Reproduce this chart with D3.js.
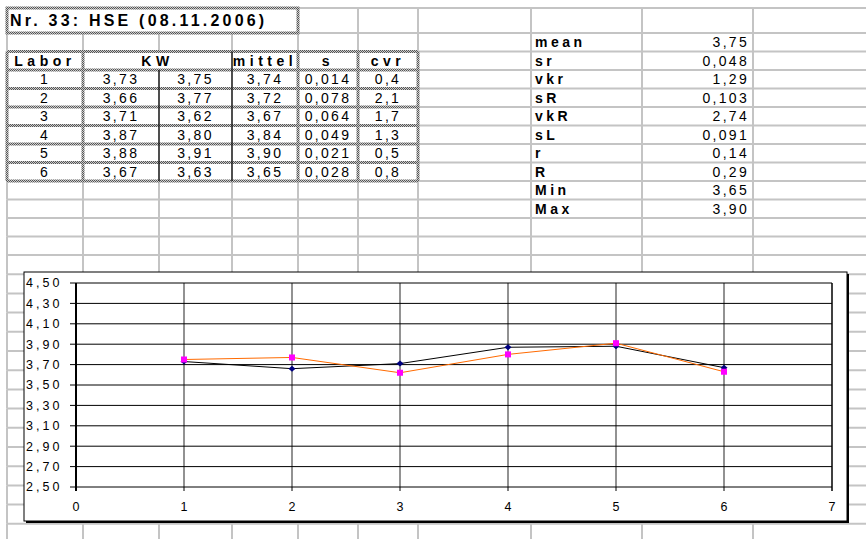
<!DOCTYPE html>
<html>
<head>
<meta charset="utf-8">
<script src="https://cdn.jsdelivr.net/npm/d3@7"></script>
<style>
  body { margin: 0; background: #fff; }
  text { font-family: "Liberation Sans", Arial, sans-serif; fill: #000; }
</style>
</head>
<body>
<svg id="sheet" width="866" height="539"></svg>
<script>
// sheet content
const title = "Nr. 33: HSE (08.11.2006)"
const headers = ["Labor", "KW", "mittel", "s", "cvr"]
const labs = [1, 2, 3, 4, 5, 6]
const kw1 = [3.73, 3.66, 3.71, 3.87, 3.88, 3.67]
const kw2 = [3.75, 3.77, 3.62, 3.80, 3.91, 3.63]
const mittel = [3.74, 3.72, 3.67, 3.84, 3.90, 3.65]
const sVals = [0.014, 0.078, 0.064, 0.049, 0.021, 0.028]
const cvr = [0.4, 2.1, 1.7, 1.3, 0.5, 0.8]
const statNames = ["mean", "sr", "vkr", "sR", "vkR", "sL", "r", "R", "Min", "Max"]
const statVals = [3.75, 0.048, 1.29, 0.103, 2.74, 0.091, 0.14, 0.29, 3.65, 3.90]
const statDigits = [2, 3, 2, 3, 2, 3, 2, 2, 2, 2]
const xTicks = [0, 1, 2, 3, 4, 5, 6, 7]
const yTicks = [2.5, 2.7, 2.9, 3.1, 3.3, 3.5, 3.7, 3.9, 4.1, 4.3, 4.5]

const svg = d3.select('#sheet')
const locale = d3.formatLocale({ decimal: ',', thousands: '.', grouping: [3], currency: ['', ''] })
const fmt = d => locale.format(',.' + d + 'f')

// spreadsheet grid
const colX = [7, 83, 159, 232, 298, 358, 418, 531, 642, 753]
const rowY = [8, 33]
for (let i = 1; i <= 12; i++) rowY.push(33 + 18.5 * i)
for (let i = 1; i <= 14; i++) rowY.push(255 + 19.2 * i)
const rowTop = i => 33 + 18.5 * i   // i = 0 is the row below the title

const defs = svg.append('defs')
const pat = defs.append('pattern')
  .attr('id', 'checker')
  .attr('patternUnits', 'userSpaceOnUse')
  .attr('width', 2).attr('height', 2)
pat.append('rect').attr('width', 2).attr('height', 2).attr('fill', '#cccccc')
pat.append('rect').attr('width', 1).attr('height', 1).attr('fill', '#555')
pat.append('rect').attr('x', 1).attr('y', 1).attr('width', 1).attr('height', 1).attr('fill', '#555')

const grid = svg.append('g').attr('stroke', '#c4c4c4').attr('stroke-width', 2)

const rowEdges = rowY.concat([539])
function merged(col, r) {
  // title cell spans A:D, KW header spans B:C
  if (r === 0 && col > 0 && col < 4) return true
  if (r === 2 && col === 2) return true
  return false
}
colX.forEach((x, c) => {
  for (let r = 0; r < rowEdges.length - 1; r++) {
    if (merged(c, r)) continue
    grid.append('line')
      .attr('x1', x).attr('x2', x)
      .attr('y1', rowEdges[r]).attr('y2', rowEdges[r + 1])
  }
})
rowY.forEach(y => {
  grid.append('line').attr('x1', 7).attr('x2', 866).attr('y1', y).attr('y2', y)
})

// table borders
const borders = svg.append('g').attr('stroke', 'url(#checker)').attr('stroke-width', 3)
borders.append('rect')
  .attr('x', 7).attr('y', 8).attr('width', 291).attr('height', 25)
  .attr('fill', 'none')
const tTop = rowTop(1), tBot = rowTop(8)
for (let i = 1; i <= 8; i++) {
  borders.append('line').attr('x1', 7).attr('x2', 418)
    .attr('y1', rowTop(i)).attr('y2', rowTop(i))
}
;[7, 83, 298, 358, 418].forEach(x => {
  borders.append('line').attr('x1', x).attr('x2', x).attr('y1', tTop).attr('y2', tBot)
})
svg.append('line').attr('x1', 159).attr('x2', 159).attr('y1', rowTop(2)).attr('y2', tBot)
  .attr('stroke', '#000').attr('stroke-width', 1.2)
svg.append('line').attr('x1', 232).attr('x2', 232).attr('y1', tTop).attr('y2', tBot)
  .attr('stroke', '#000').attr('stroke-width', 1.2)

// texts
const cellMid = i => rowTop(i) + 9.5
svg.append('text')
  .attr('x', 10).attr('y', 20.5).attr('dy', '0.35em')
  .style('font-size', '16px').style('font-weight', 'bold').style('letter-spacing', '3.2px')
  .text(title)

const headerX = [45, 157.5, 265, 328, 388]
headers.forEach((h, j) => {
  svg.append('text')
    .attr('x', headerX[j]).attr('y', cellMid(1)).attr('dy', '0.35em')
    .attr('text-anchor', 'middle')
    .style('font-size', '14px').style('font-weight', 'bold').style('letter-spacing', '4.5px')
    .text(h)
})

const colCenters = [45, 121, 195.5, 265, 328, 388]
const rows = labs.map((l, i) => [
  String(l), fmt(2)(kw1[i]), fmt(2)(kw2[i]), fmt(2)(mittel[i]), fmt(3)(sVals[i]), fmt(1)(cvr[i])
])
rows.forEach((row, i) => {
  row.forEach((v, j) => {
    svg.append('text')
      .attr('x', colCenters[j]).attr('y', cellMid(i + 2)).attr('dy', '0.35em')
      .attr('text-anchor', 'middle')
      .style('font-size', '14px').style('letter-spacing', '2.3px')
      .text(v)
  })
})

statNames.forEach((n, i) => {
  svg.append('text')
    .attr('x', 535).attr('y', cellMid(i)).attr('dy', '0.35em')
    .style('font-size', '14px').style('font-weight', 'bold').style('letter-spacing', '3.5px')
    .text(n)
  svg.append('text')
    .attr('x', 749).attr('y', cellMid(i)).attr('dy', '0.35em')
    .attr('text-anchor', 'end')
    .style('font-size', '14px').style('letter-spacing', '2.3px')
    .text(fmt(statDigits[i])(statVals[i]))
})

// chart
const chart = svg.append('g')
const frame = { x0: 24, y0: 272, x1: 847, y1: 521 }
chart.append('rect')
  .attr('x', frame.x0 + 2).attr('y', frame.y0 + 2)
  .attr('width', frame.x1 - frame.x0).attr('height', frame.y1 - frame.y0)
  .attr('fill', '#000')
chart.append('rect')
  .attr('x', frame.x0).attr('y', frame.y0)
  .attr('width', frame.x1 - frame.x0).attr('height', frame.y1 - frame.y0)
  .attr('fill', '#fff').attr('stroke', '#000').attr('stroke-width', 1)

const x = d3.scaleLinear().domain([0, 7]).range([76, 832])
const y = d3.scaleLinear().domain([2.5, 4.5]).range([487, 283])

chart.append('g')
  .selectAll('line')
  .data(xTicks.slice(1, -1))
  .join('line')
  .attr('x1', d => x(d)).attr('x2', d => x(d))
  .attr('y1', y(4.5)).attr('y2', y(2.5))
  .attr('stroke', '#6e6e6e').attr('stroke-width', 1.5)

chart.append('g')
  .selectAll('line')
  .data(yTicks)
  .join('line')
  .attr('x1', x(0) - 6).attr('x2', x(7))
  .attr('y1', d => y(d)).attr('y2', d => y(d))
  .attr('stroke', '#000').attr('stroke-width', 1)

chart.append('line')
  .attr('x1', x(0)).attr('x2', x(0)).attr('y1', y(4.5)).attr('y2', y(2.5) + 4)
  .attr('stroke', '#000').attr('stroke-width', 2)
chart.append('line')
  .attr('x1', x(7)).attr('x2', x(7)).attr('y1', y(4.5)).attr('y2', y(2.5) + 4)
  .attr('stroke', '#000').attr('stroke-width', 1.5)
chart.append('g')
  .selectAll('line')
  .data(xTicks.slice(1, -1))
  .join('line')
  .attr('x1', d => x(d)).attr('x2', d => x(d))
  .attr('y1', y(2.5)).attr('y2', y(2.5) + 4)
  .attr('stroke', '#000').attr('stroke-width', 1)

chart.append('g')
  .selectAll('text')
  .data(yTicks)
  .join('text')
  .attr('x', 26).attr('y', d => y(d)).attr('dy', '0.35em')
  .style('font-size', '12.5px').style('letter-spacing', '3px')
  .text(d => fmt(2)(d))

chart.append('g')
  .selectAll('text')
  .data(xTicks)
  .join('text')
  .attr('x', d => x(d)).attr('y', 507).attr('dy', '0.35em')
  .attr('text-anchor', 'middle')
  .style('font-size', '12.5px')
  .text(d => d)

const line = d3.line().x((d, i) => x(labs[i])).y(d => y(d))

chart.append('path')
  .attr('d', line(kw1))
  .attr('fill', 'none').attr('stroke', '#000').attr('stroke-width', 1)
chart.append('g')
  .selectAll('path')
  .data(kw1)
  .join('path')
  .attr('d', (d, i) => {
    const cx = x(labs[i]), cy = y(d)
    return `M${cx - 3.5},${cy}L${cx},${cy - 3}L${cx + 3.5},${cy}L${cx},${cy + 3}Z`
  })
  .attr('fill', '#000080')

chart.append('path')
  .attr('d', line(kw2))
  .attr('fill', 'none').attr('stroke', '#ff6a00').attr('stroke-width', 1)
chart.append('g')
  .selectAll('rect')
  .data(kw2)
  .join('rect')
  .attr('x', (d, i) => x(labs[i]) - 3).attr('y', d => y(d) - 3)
  .attr('width', 6).attr('height', 6)
  .attr('fill', '#ff00ff')
</script>
</body>
</html>
